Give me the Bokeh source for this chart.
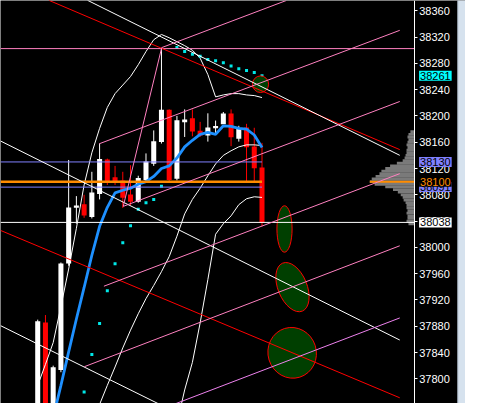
from bokeh.plotting import figure
from bokeh.models import Range1d, FixedTicker, Label
from bokeh.embed import file_html
from bokeh.resources import INLINE

# ---------------- data ----------------
bars = list(range(30))
opens = [37720, 37885, 37748, 37814, 37976, 38061, 38065, 38047, 38082, 38133,
         38106, 38101, 38080, 38070, 38103, 38128, 38161, 38209, 38105, 38191,
         38196, 38177, 38171, 38182, 38188, 38203, 38166, 38182, 38153, 38121]
highs = [37890, 37897, 37820, 37977, 38133, 38078, 38080, 38115, 38158, 38135,
         38124, 38115, 38125, 38109, 38143, 38178, 38303, 38210, 38200, 38210,
         38210, 38191, 38204, 38193, 38206, 38210, 38185, 38188, 38182, 38159]
lows = [37705, 37735, 37740, 37810, 37972, 38036, 38045, 38044, 38073, 38095,
        38095, 38060, 38064, 38068, 38100, 38124, 38158, 38098, 38102, 38168,
        38169, 38168, 38161, 38173, 38188, 38154, 38161, 38098, 38098, 38032]
closes = [37887, 37745, 37817, 37975, 38060, 38063, 38049, 38083, 38134, 38101,
          38101, 38076, 38070, 38105, 38130, 38161, 38209, 38103, 38193, 38194,
          38177, 38171, 38182, 38184, 38203, 38168, 38181, 38153, 38121, 38038]

ma_bars = list(range(2, 30))
ma_vals = [37741, 37790, 37841, 37891, 37939, 37988, 38032, 38061, 38083, 38087,
           38090, 38096, 38100, 38108, 38120, 38124, 38136, 38153, 38163, 38172,
           38175, 38172, 38185, 38184, 38181, 38180, 38171, 38152]

upper_band = [37790, 37822, 37855, 37910, 37967, 38029, 38095, 38144, 38181, 38213,
              38234, 38247, 38260, 38278, 38298, 38316, 38324, 38319, 38313, 38307,
              38300, 38288, 38263, 38229, 38232, 38234, 38234, 38232, 38231, 38228]
lower_bars = list(range(8, 30))
lower_band = [37761, 37790, 37818, 37847, 37874, 37899, 37922, 37942, 37963, 37986,
              38017, 38051, 38073, 38090, 38109, 38127, 38140, 38147, 38153, 38156,
              38156, 38155]
lower2_bars = list(range(18, 30))
lower2_band = [37732, 37783, 37825, 37885, 37951, 38020, 38036, 38048, 38065, 38074,
               38077, 38076]

sar_bars = [6, 7, 8, 9, 10, 11, 12, 13, 14, 15, 16,
            18, 19, 20, 21, 22, 23, 24, 25, 26, 27, 28, 29]
sar_vals = [37780, 37837, 37884, 37934, 37975, 38007, 38033, 38058, 38068, 38073, 38093,
            38304, 38298, 38294, 38291, 38286, 38284, 38281, 38276, 38272, 38269, 38266, 38261]

price_ticks = list(range(37800, 38361, 40))

high_level = 38302.5
last_price = 38038
blue_levels = [38130, 38091.7]
orange_level = 38100

# trend lines (bar index, price) endpoints
red_x0 = [1.44, -4.81]
red_y0 = [38376, 38025.8]
red_x1 = [46.81, 46.81]
red_y1 = [38148.8, 37771.1]

white_x0 = [6.44, -4.81, -4.81]
white_y0 = [38376, 38161.9, 37880.9]
white_x1 = [46.81, 46.81, 17.69]
white_y1 = [38140.1, 37859.0, 37749.9]

pink_x0 = [16.03, 7.94, 11.06, 8.56, 6.03, 11.06]
pink_y0 = [38304.0, 38157.6, 38062.4, 37940.9, 37818.4, 38062.4]
pink_x1 = [32.14, 46.81, 46.81, 46.81, 46.81, 16.03]
pink_y1 = [38375.7, 38330.3, 38222.0, 38112.2, 38002.4, 38304.0]

violet_x0 = [16.4]
violet_y0 = [37755.7]
violet_x1 = [46.81]
violet_y1 = [37892.6]

# volume profile
profile_prices = [38176, 38172, 38168, 38164, 38160, 38156, 38152, 38148, 38144, 38140,
                  38136, 38132, 38128, 38124, 38120, 38116, 38112, 38108, 38104, 38100,
                  38096, 38092, 38088, 38084, 38080, 38076, 38072, 38068, 38064, 38060,
                  38056, 38052, 38048, 38044, 38040, 38036]
profile_volumes = [4, 6, 7, 6, 7, 8, 7, 8, 8, 9,
                   10, 12, 18, 25, 30, 34, 36, 40, 44, 46,
                   41, 30, 22, 17, 14, 12, 11, 9, 8, 8,
                   7, 8, 7, 7, 8, 6]

# projection zones (ellipses)
zone_x = [28.81, 31.91, 32.94, 32.9]
zone_y = [38248.3, 38028.0, 37939.5, 37839.5]
zone_w = [2.09, 1.96, 3.75, 6.25]
zone_h = [25.3, 70.7, 79.0, 77.6]
zone_angle = [0.0, 0.0, 0.39, 0.3]

# ---------------- figure ----------------
X0, XR = -4.8125, 55.3125          # visible bar-index span of the window
X_AXIS = 48.6875                    # where the price scale sits
X_LABEL = 49.31                     # start of price-label text
X_STRIP = 54.3125                   # window frame strip

p = figure(width=465, height=403, x_range=Range1d(X0, XR),
           y_range=Range1d(37762.4, 38375.7), output_backend="svg",
           toolbar_location=None, x_axis_location=None, y_axis_location="right",
           background_fill_color="black", border_fill_color="black",
           min_border=0, outline_line_color=None)
p.grid.visible = False
ax = p.yaxis[0]
ax.fixed_location = X_AXIS
ax.ticker = FixedTicker(ticks=price_ticks, minor_ticks=[])
ax.axis_line_color = "white"
ax.major_tick_line_color = "white"
ax.major_tick_in = 0
ax.major_tick_out = 3
ax.minor_tick_line_color = None
ax.major_label_text_color = "white"
ax.major_label_text_font = "Liberation Sans"
ax.major_label_text_font_size = "11px"
ax.major_label_standoff = 2

# window frame strip on the far right
p.quad(left=X_STRIP, right=XR + 1, bottom=37700, top=38400,
       fill_color="#d6e2ee", line_color=None)
p.segment(x0=[X_STRIP], y0=[37700], x1=[X_STRIP], y1=[38400],
          line_color="#a8b4c2", line_width=1)

# volume profile
vol_scale = 1.0 / 8.0
p.hbar(y=profile_prices, height=4.3,
       left=[X_AXIS - v * vol_scale for v in profile_volumes], right=X_AXIS,
       fill_color="#7a7a7a", line_color=None)

# candles
ccol = ["white" if c >= o else "#ff0000" for o, c in zip(opens, closes)]
p.segment(x0=bars, y0=lows, x1=bars, y1=highs, line_color=ccol, line_width=1)
p.vbar(x=bars, top=[max(o, c) + 0.6 for o, c in zip(opens, closes)],
       bottom=[min(o, c) - 0.6 for o, c in zip(opens, closes)],
       width=0.65, fill_color=ccol, line_color=None)

# bands
p.line(bars, upper_band, line_color="white", line_width=1)
p.line(lower_bars, lower_band, line_color="white", line_width=1)
p.line(lower2_bars, lower2_band, line_color="white", line_width=1)

# moving average
p.line(ma_bars, ma_vals, line_color="#1e90ff", line_width=2.8)

# parabolic SAR
p.scatter(sar_bars, sar_vals, marker="square", size=3, fill_color="#00e8e8", line_color=None)

# zones
p.ellipse(x=zone_x, y=zone_y, width=zone_w, height=zone_h, angle=zone_angle,
          fill_color="#003f00", line_color="#ff0000", line_width=1)

# horizontal level lines
last_bar = bars[-1]
p.segment(x0=[X0] * len(blue_levels), y0=blue_levels, x1=[last_bar] * len(blue_levels),
          y1=blue_levels, line_color="#8080ff", line_width=1)
p.segment(x0=[X0], y0=[orange_level], x1=[last_bar], y1=[orange_level],
          line_color="#ff8c00", line_width=2.5)
poc_left = X_AXIS - max(profile_volumes) * vol_scale
p.segment(x0=[poc_left], y0=[orange_level], x1=[X_AXIS], y1=[orange_level],
          line_color="#ff8c00", line_width=2)
p.segment(x0=[X0, X0], y0=[high_level, last_price], x1=[X_AXIS, X_AXIS],
          y1=[high_level, last_price], line_color=["#ff80c0", "white"], line_width=1)

# trend lines
p.segment(x0=red_x0, y0=red_y0, x1=red_x1, y1=red_y1, line_color="#ff0000", line_width=1)
p.segment(x0=white_x0, y0=white_y0, x1=white_x1, y1=white_y1, line_color="white", line_width=1)
p.segment(x0=pink_x0, y0=pink_y0, x1=pink_x1, y1=pink_y1, line_color="#ff80c0", line_width=1)
p.segment(x0=violet_x0, y0=violet_y0, x1=violet_x1, y1=violet_y1, line_color="#ee82ee", line_width=1)

# price labels on the scale
def price_label(val, txt, bg, fg):
    p.add_layout(Label(x=X_LABEL, y=val, text=txt,
                       text_color=fg, background_fill_color=bg,
                       text_font="Liberation Sans", text_font_size="11px",
                       text_baseline="middle", text_align="left", padding=1))

price_label(sar_vals[-1], str(sar_vals[-1]), "#00ffff", "black")
price_label(blue_levels[0], "38130", "#8080ff", "black")
price_label(blue_levels[1], "38091", "#8080ff", "black")
price_label(orange_level, "38100", "black", "#ff8c00")
price_label(last_price, "38038", "white", "black")

open("out.html", "w").write(file_html(p, INLINE))
